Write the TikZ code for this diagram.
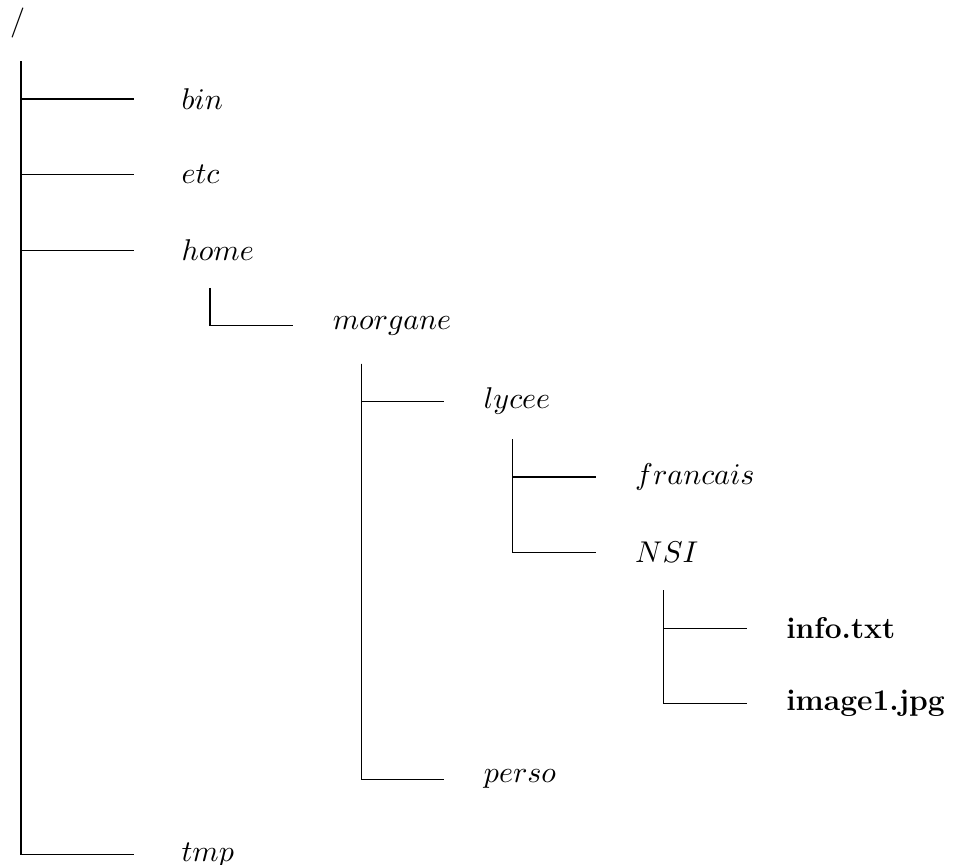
\RequirePackage{fix-cm}
\documentclass[tikz,border=0pt]{standalone}
\begin{document}
\begin{tikzpicture}[
        every node/.style={anchor=west, font=\fontsize{11.3}{14}\selectfont}
    ]
        \useasboundingbox (-0.278,0.31) rectangle ++(12.70,-11.44);

        % Racine
        \node[anchor=center] (racine) at (-0.046,0) {$/$};

        % Dossiers et fichiers
        \node (bin) at (2,-1) {$bin$};
        \node (etc) at (2,-2) {$etc$};
        \node (home) at (2,-3) {$home$};
        \node (morgane) at (4,-4) {$morgane$};
        \node (lycee) at (6,-5) {$lycee$};
        \node (francais) at (8,-6) {$francais$};
        \node (NSI) at (8,-7) {$NSI$};
        \node (info) at (10,-8) {\textbf{info.txt}};
        \node (image) at (10,-9) {\textbf{image1.jpg}};
        \node (perso) at (6,-10) {$perso$};
        \node (tmp) at (2,-11) {$tmp$};

        % Troncs
        \coordinate (t-racine) at (0,-0.5);
        \foreach \rep in {home,morgane,lycee,NSI} {
            \coordinate (t-\rep) at ([shift={(0.5,-0.5)}]\rep.west);
        }

        % Branches
        \foreach \enfant in {bin,etc,home,tmp} {
            \draw (t-racine) |- ([xshift=-5mm]\enfant.west);
        }
        \foreach \parent/\enfant in {home/morgane, morgane/lycee, morgane/perso,
                lycee/francais, lycee/NSI, NSI/info, NSI/image} {
            \draw (t-\parent) |- ([xshift=-4mm]\enfant.west);
        }
    \end{tikzpicture}
\end{document}
